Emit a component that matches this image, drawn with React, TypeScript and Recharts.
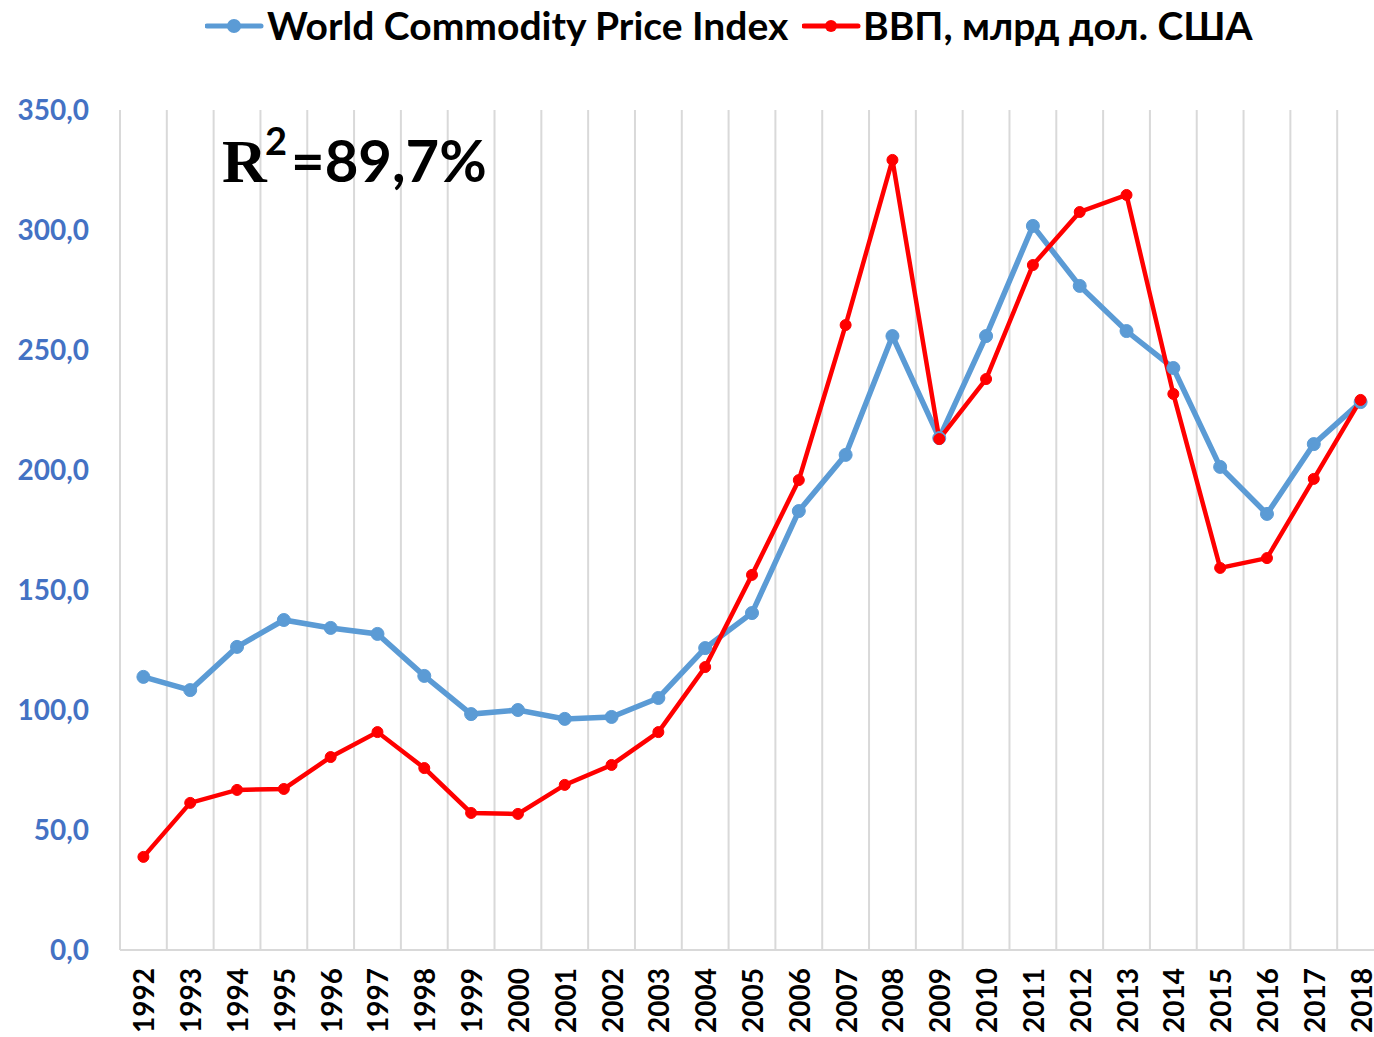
import { LineChart, Line, XAxis, YAxis, CartesianGrid } from "recharts";

const years = [
	"1992", "1993", "1994", "1995", "1996", "1997", "1998", "1999", "2000",
	"2001", "2002", "2003", "2004", "2005", "2006", "2007", "2008", "2009",
	"2010", "2011", "2012", "2013", "2014", "2015", "2016", "2017", "2018",
];

const commodityIndex = [
	113.8, 108.3, 126.3, 137.5, 134.2, 131.7, 114.2, 98.3, 100.0,
	96.3, 97.1, 105.0, 125.8, 140.4, 182.9, 206.3, 255.8, 213.3,
	255.8, 301.7, 276.7, 257.9, 242.5, 201.3, 181.7, 210.8, 228.3,
];

const gdp = [
	38.8, 61.3, 66.7, 67.1, 80.4, 90.8, 75.8, 57.1, 56.7,
	68.8, 77.1, 90.8, 117.9, 156.3, 195.8, 260.4, 329.2, 212.9,
	237.9, 285.4, 307.5, 314.6, 231.7, 159.2, 163.3, 196.3, 229.2,
];

const yTicks = [0, 50, 100, 150, 200, 250, 300, 350];

const seriesNames = ["World Commodity Price Index", "ВВП, млрд дол. США"];

const data = years.map((year, i) => ({
	year,
	index: commodityIndex[i],
	gdp: gdp[i],
}));

const FONT = "Lato, 'Open Sans', sans-serif";
const BLUE = "#5B9BD5";
const RED = "#FF0000";

// plot box: 120 .. 1384 wide, 27 categories
const CAT_W = 46.8;

function LegendItem({ color, label, left, textLeft, r }: {
	color: string; label: string; left: number; textLeft: number; r: number;
}) {
	return (
		<>
			<svg width={60} height={20} style={{ position: "absolute", left, top: 16 }}>
				<line x1={2} y1={10} x2={56} y2={10} stroke={color} strokeWidth={5} strokeLinecap="round" />
				<circle cx={29} cy={10} r={r} fill={color} />
			</svg>
			<span
				style={{
					position: "absolute",
					left: textLeft,
					top: 3,
					fontSize: 39,
					lineHeight: "44px",
					fontWeight: 700,
					color: "#000",
					whiteSpace: "nowrap",
				}}
			>
				{label}
			</span>
		</>
	);
}

function XTick(props: any) {
	const { x, y, payload } = props;
	return (
		<text
			x={x}
			y={y}
			transform={`rotate(-90, ${x}, ${y})`}
			textAnchor="end"
			dominantBaseline="central"
			dx={-10}
			fontSize={28}
			fontWeight={700}
			fill="#000"
			fontFamily={FONT}
		>
			{payload.value}
		</text>
	);
}

export default function App() {
	return (
		<div
			style={{
				position: "absolute",
				left: 0,
				top: 0,
				width: 1374,
				height: 1037,
				overflow: "hidden",
				background: "#fff",
				fontFamily: FONT,
			}}
		>
			<LegendItem color={BLUE} label={seriesNames[0]} left={205} textLeft={267} r={7} />
			<LegendItem color={RED} label={seriesNames[1]} left={802} textLeft={863} r={6} />
			<LineChart
				width={1400}
				height={1037}
				data={data}
				margin={{ top: 110, right: 16, left: 0, bottom: 0 }}
			>
				<CartesianGrid
					horizontal={false}
					stroke="#d9d9d9"
					strokeWidth={2}
					verticalCoordinatesGenerator={({ offset }: any) =>
						Array.from(
							{ length: years.length + 1 },
							(_, i) => offset.left + (i * offset.width) / years.length,
						)
					}
				/>
				<XAxis
					dataKey="year"
					interval={0}
					height={87}
					padding={{ left: CAT_W / 2, right: CAT_W / 2 }}
					axisLine={{ stroke: "#d9d9d9", strokeWidth: 2 }}
					tickLine={false}
					tick={<XTick />}
				/>
				<YAxis
					width={120}
					domain={[0, 350]}
					ticks={yTicks}
					axisLine={false}
					tickLine={false}
					tickMargin={25}
					tickFormatter={(v: number) => v.toFixed(1).replace(".", ",")}
					tick={{ fill: "#4472C4", fontSize: 28, fontWeight: 700, fontFamily: FONT }}
				/>
				<Line
					dataKey="index"
					name={seriesNames[0]}
					stroke={BLUE}
					strokeWidth={5.5}
					dot={{ r: 6.5, fill: BLUE, stroke: BLUE, strokeWidth: 1 }}
					isAnimationActive={false}
				/>
				<Line
					dataKey="gdp"
					name={seriesNames[1]}
					stroke={RED}
					strokeWidth={4.5}
					dot={{ r: 5.5, fill: RED, stroke: RED, strokeWidth: 1 }}
					isAnimationActive={false}
				/>
				<text x={222} y={182} fontSize={62} fontWeight={700} fill="#000" fontFamily="'Liberation Serif', serif">
					R
				</text>
				<text x={265} y={155} fontSize={38} fontWeight={700} fill="#000" fontFamily={FONT}>
					2
				</text>
				<text x={291} y={182} fontSize={58} fontWeight={700} fill="#000" fontFamily={FONT}>
					=89,7%
				</text>
			</LineChart>
		</div>
	);
}
